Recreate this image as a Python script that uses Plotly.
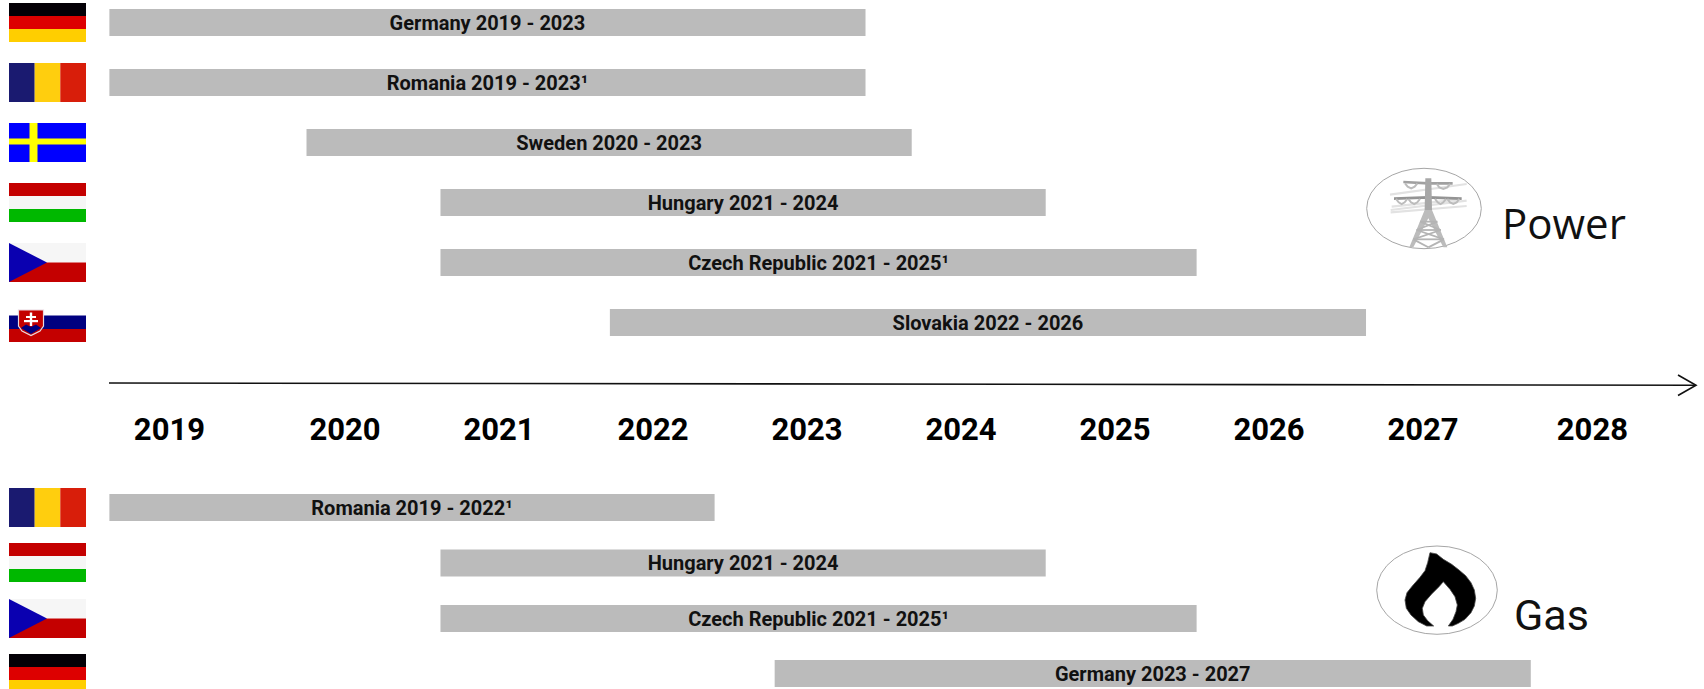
import plotly.graph_objects as go

WIDTH, HEIGHT = 1704, 689

# Market rollout periods, in fractional years on the time axis
power_labels = ["Germany 2019 - 2023", "Romania 2019 - 2023¹", "Sweden 2020 - 2023",
                "Hungary 2021 - 2024", "Czech Republic 2021 - 2025¹", "Slovakia 2022 - 2026"]
power_start = [2018.47, 2018.47, 2019.75, 2020.62, 2020.62, 2021.72]
power_end = [2023.38, 2023.38, 2023.68, 2024.55, 2025.53, 2026.63]
power_rows = [22.5, 82.5, 142.5, 202.5, 262.5, 322.5]

gas_labels = ["Romania 2019 - 2022¹", "Hungary 2021 - 2024",
              "Czech Republic 2021 - 2025¹", "Germany 2023 - 2027"]
gas_start = [2018.47, 2020.62, 2020.62, 2022.79]
gas_end = [2022.40, 2024.55, 2025.53, 2027.70]
gas_rows = [507.5, 563, 618.5, 673.5]

year_labels = ["2019", "2020", "2021", "2022", "2023", "2024", "2025", "2026", "2027", "2028"]
year_positions = [2018.86, 2020.0, 2021.0, 2022.0, 2023.0, 2024.0, 2025.0, 2026.0, 2027.0, 2028.1]

BAR_COLOR = "#bbbbbb"
LABEL_FONT = "Roboto"
X_RANGE = [2021 - 499 / 154, 2021 + (WIDTH - 499) / 154]


def px(x):
    return x / WIDTH


def py(y):
    return 1 - y / HEIGHT


def rect(x0, y0, x1, y1, color):
    return dict(type="rect", xref="paper", yref="paper", x0=px(x0), x1=px(x1),
                y0=py(y0), y1=py(y1), fillcolor=color, line=dict(width=0), layer="above")


def path(points, fill=None, line=None, width=1, close=True):
    d = "M " + " L ".join(f"{px(x):.5f},{py(y):.5f}" for x, y in points) + (" Z" if close else "")
    return dict(type="path", xref="paper", yref="paper", path=d,
                fillcolor=fill if fill else "rgba(0,0,0,0)",
                line=dict(color=line if line else "rgba(0,0,0,0)", width=width if line else 0),
                layer="above")


def ellipse(x0, y0, x1, y1, color="#a6a6a6"):
    return dict(type="circle", xref="paper", yref="paper", x0=px(x0), x1=px(x1),
                y0=py(y0), y1=py(y1), line=dict(color=color, width=1), layer="above")


def flag_bands(top, bottom, colors):
    step = (bottom - top) / len(colors)
    return [rect(9, top + i * step, 86, top + (i + 1) * step, c) for i, c in enumerate(colors)]


def flag_germany(top, bottom):
    step = 13
    return [rect(9, top, 86, top + step, "#040006"),
            rect(9, top + step, 86, top + 2 * step, "#dd0000"),
            rect(9, top + 2 * step, 86, bottom, "#ffce00")]


def flag_romania(top):
    return [rect(9, top, 34.7, top + 39, "#1a1a70"),
            rect(34.7, top, 60.3, top + 39, "#ffce0e"),
            rect(60.3, top, 86, top + 39, "#d81e0a")]


def flag_sweden(top):
    return [rect(9, top, 86, top + 39, "#0000ff"),
            rect(29.5, top, 37.5, top + 39, "#ffff00"),
            rect(9, top + 15.5, 86, top + 21.5, "#ffff00")]


def flag_hungary(top):
    return flag_bands(top, top + 39, ["#c40000", "#f6f6f6", "#00b800"])


def flag_czech(top):
    return [rect(9, top, 86, top + 19.5, "#f6f6f6"),
            rect(9, top + 19.5, 86, top + 39, "#c40000"),
            path([(9, top), (47, top + 19.5), (9, top + 39)], fill="#0a00b0")]


def flag_slovakia():
    crest = [(18.5, 310), (43.5, 310), (43.5, 326), (40, 331), (31, 335.5), (22, 331), (18.5, 326)]
    base = [(21, 328), (26, 324.5), (31, 327), (36, 324.5), (41, 328), (31, 334)]
    return [rect(9, 315.5, 86, 329, "#000080"),
            rect(9, 329, 86, 342, "#c40000"),
            path(crest, fill="#c40000", line="#e8d8e0", width=1.2),
            path(base, fill="#000080"),
            rect(29.8, 312.5, 32.2, 326, "#ffffff"),
            rect(26, 316, 36, 318, "#ffffff"),
            rect(24, 320, 38, 322.2, "#ffffff")]


def pylon_shapes():
    ox, oy, k = 1360, 160, 1 / 3

    def pts(seq):
        return [(ox + x * k, oy + y * k) for x, y in seq]

    def ln(seq, color="#a8a8a8", width=1.5):
        return path(pts(seq), line=color, width=width, close=False)

    out = []
    # conductors behind the tower
    for seq in ([(90, 104), (320, 72)], [(92, 150), (320, 122)], [(92, 157), (320, 138)],
                [(95, 140), (300, 118)]):
        out.append(ln(seq, "#e2e2e2", 2.2))
    # cross arms and insulator swags
    out.append(ln([(130, 66), (205, 70), (278, 70)], "#a0a0a0", 2.6))
    out.append(ln([(102, 116), (205, 112), (305, 116)], "#949494", 2.6))
    for a, b, y in ((135, 172, 70), (230, 270, 72), (108, 142, 117), (145, 180, 117),
                    (225, 258, 117), (262, 298, 117)):
        mid = (a + b) / 2
        out.append(ln([(a, y), (a + 8, y + 10), (mid, y + 15), (b - 8, y + 10), (b, y)], "#bcbcbc", 2))
    # mast and legs
    out.append(path(pts([(196, 55), (214, 55), (216, 150), (194, 150)]), fill="#a8a8a8"))
    out.append(path(pts([(194, 150), (216, 150), (262, 262), (250, 262), (205, 175), (160, 262), (148, 262)]),
                    fill="#bcbcbc"))
    # lattice bracing
    for seq in ([(180, 185), (232, 185)], [(170, 210), (242, 210)], [(160, 238), (252, 238)],
                [(180, 185), (242, 210)], [(232, 185), (170, 210)], [(170, 210), (252, 238)],
                [(242, 210), (160, 238)], [(160, 238), (205, 262)], [(252, 238), (205, 262)]):
        out.append(ln(seq, "#b4b4b4", 1.8))
    return out


def flame_shape():
    ox, oy, k = 1375, 540, 1 / 3
    seq = [(165, 38), (185, 42), (205, 58), (230, 73), (252, 90), (272, 107), (288, 128), (298, 150),
           (302, 175), (298, 198), (288, 218), (270, 238), (250, 250), (232, 258), (220, 258),
           (234, 238), (243, 215), (247, 195), (240, 170), (225, 148), (205, 125), (192, 140),
           (170, 162), (150, 185), (142, 205), (145, 225), (158, 242), (176, 258), (155, 258),
           (130, 245), (108, 225), (94, 205), (90, 180), (96, 158), (112, 138), (135, 112),
           (150, 92), (158, 68)]
    return path([(ox + x * k, oy + y * k) for x, y in seq], fill="#000000", line="#444444", width=0.8)


shapes = []
shapes += flag_germany(3, 42) + flag_romania(63) + flag_sweden(123) + flag_hungary(183)
shapes += flag_czech(243) + flag_slovakia()
shapes += flag_romania(488) + flag_hungary(543) + flag_czech(599) + flag_germany(654, 689)

# Timeline arrow
shapes.append(path([(109, 383), (1695, 385.2)], line="#111111", width=1.6, close=False))
shapes.append(path([(1678, 375), (1696, 385.2), (1678, 395.5)], line="#111111", width=1.6, close=False))

# Sector icons
shapes.append(ellipse(1366.7, 168.3, 1481.3, 248.7))
shapes += pylon_shapes()
shapes.append(ellipse(1376.7, 546, 1497.3, 634.3))
shapes.append(flame_shape())

fig = go.Figure()
for name, labels, start, end, rows in (("Power", power_labels, power_start, power_end, power_rows),
                                       ("Gas", gas_labels, gas_start, gas_end, gas_rows)):
    fig.add_trace(go.Bar(
        name=name, orientation="h", y=rows, base=start,
        x=[e - s for s, e in zip(start, end)], width=27, opacity=1,
        marker=dict(color=BAR_COLOR, line=dict(width=0)),
        text=labels, textposition="inside", insidetextanchor="middle", textangle=0,
        constraintext="none", cliponaxis=False, hoverinfo="text",
        textfont=dict(family=LABEL_FONT, size=20, color="#111111", weight=700),
    ))

annotations = [
    dict(text="Power", xref="paper", yref="paper", x=px(1499.5), y=py(222.5), xanchor="left", yanchor="middle",
         showarrow=False, font=dict(family="Open Sans", size=42, color="#111111")),
    dict(text="Gas", xref="paper", yref="paper", x=px(1512), y=py(615), xanchor="left", yanchor="middle",
         showarrow=False, font=dict(family="Roboto", size=43, color="#111111")),
]

fig.update_layout(
    width=WIDTH, height=HEIGHT, margin=dict(l=0, r=0, t=0, b=0),
    paper_bgcolor="#ffffff", plot_bgcolor="#ffffff", showlegend=False, barmode="overlay",
    shapes=shapes, annotations=annotations,
    xaxis=dict(range=X_RANGE, anchor="free", position=py(407.5), showgrid=False, zeroline=False,
               showline=False, ticks="", tickvals=year_positions, ticktext=year_labels,
               tickfont=dict(family="Roboto", size=31, color="#000000", weight=700), automargin=False),
    yaxis=dict(range=[HEIGHT, 0], visible=False, automargin=False),
)

fig.write_html("out.html", config=dict(displayModeBar=False))
